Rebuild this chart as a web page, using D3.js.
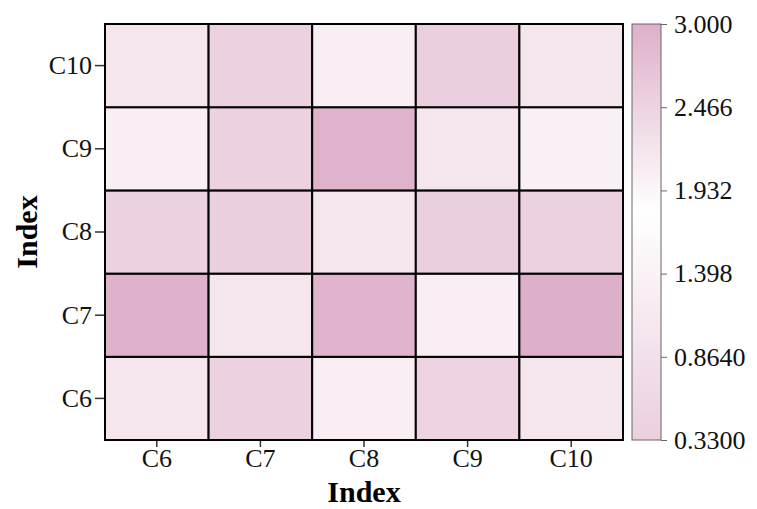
<!DOCTYPE html>
<html>
<head>
<meta charset="utf-8">
<script src="https://cdn.jsdelivr.net/npm/d3@7"></script>
<style>
  body { margin: 0; background: #fff; }
  text { font-family: "Liberation Serif", "Times New Roman", serif; }
</style>
</head>
<body>
<svg id="chart" width="757" height="509"></svg>
<script>
const xCats = ["C6", "C7", "C8", "C9", "C10"];
const yCats = ["C6", "C7", "C8", "C9", "C10"];
// rows follow yCats, columns follow xCats
const values = [
  [2.18, 2.48, 2.05, 0.45, 2.18],
  [2.95, 2.18, 2.93, 2.05, 3.00],
  [0.40, 2.52, 2.18, 2.52, 0.42],
  [2.05, 0.38, 2.94, 2.18, 2.03],
  [2.18, 2.48, 2.05, 0.33, 2.18]
];
const cbTicks = ["0.3300", "0.8640", "1.398", "1.932", "2.466", "3.000"];

const svg = d3.select("#chart"),
      margin = {top: 24, left: 105, right: 623, bottom: 440};

const x = d3.scaleBand().domain(xCats).range([margin.left, margin.right]);
const y = d3.scaleBand().domain(yCats).range([margin.bottom, margin.top]);

const color = d3.scaleLinear()
    .domain([0.33, 1.8, 3.0])
    .range(["#ebcfdf", "#ffffff", "#deafc9"]);

const cells = [];
values.forEach((row, i) => row.forEach((v, j) => cells.push({x: xCats[j], y: yCats[i], v: v})));

svg.append("g").selectAll("rect")
  .data(cells)
  .join("rect")
    .attr("x", d => x(d.x))
    .attr("y", d => y(d.y))
    .attr("width", x.bandwidth())
    .attr("height", y.bandwidth())
    .attr("fill", d => color(d.v))
    .attr("stroke", "#000")
    .attr("stroke-width", 2);

// axes
const xAxis = svg.append("g")
    .attr("transform", `translate(0,${margin.bottom + 1})`)
    .call(d3.axisBottom(x).tickSize(6).tickPadding(2));
const yAxis = svg.append("g")
    .attr("transform", `translate(${margin.left - 1},0)`)
    .call(d3.axisLeft(y).tickSize(9).tickPadding(3));
[xAxis, yAxis].forEach(g => {
  g.select(".domain").remove();
  g.selectAll(".tick line").attr("stroke", "#333").attr("stroke-width", 1.5);
  g.selectAll(".tick text").attr("font-size", 26).attr("fill", "#111")
    .style("font-family", "'Liberation Serif', serif");
});

svg.append("text")
    .attr("x", (margin.left + margin.right) / 2)
    .attr("y", 502)
    .attr("text-anchor", "middle")
    .attr("font-size", 30)
    .attr("font-weight", "bold")
    .text("Index");

svg.append("text")
    .attr("transform", `translate(37,${(margin.top + margin.bottom) / 2}) rotate(-90)`)
    .attr("text-anchor", "middle")
    .attr("font-size", 30)
    .attr("font-weight", "bold")
    .text("Index");

// colorbar
const cbX = 632, cbW = 29;
const cbScale = d3.scaleLinear().domain([0.33, 3.0]).range([margin.bottom, margin.top]);
const defs = svg.append("defs");
const grad = defs.append("linearGradient")
    .attr("id", "cbGrad")
    .attr("x1", 0).attr("y1", 1).attr("x2", 0).attr("y2", 0);
d3.range(0, 1.0001, 0.05).forEach(t => {
  const v = 0.33 + t * (3.0 - 0.33);
  grad.append("stop").attr("offset", t).attr("stop-color", color(v));
});
svg.append("rect")
    .attr("x", cbX)
    .attr("y", margin.top)
    .attr("width", cbW)
    .attr("height", margin.bottom - margin.top)
    .attr("fill", "url(#cbGrad)")
    .attr("stroke", "#666")
    .attr("stroke-width", 1);

const cbAxis = svg.append("g")
    .attr("transform", `translate(${cbX + cbW},0)`)
    .call(d3.axisRight(cbScale)
      .tickValues(cbTicks.map(Number))
      .tickFormat((d, i) => cbTicks[i])
      .tickSize(6).tickPadding(7));
cbAxis.select(".domain").remove();
cbAxis.selectAll(".tick line").attr("stroke", "#666");
cbAxis.selectAll(".tick text").attr("font-size", 26).attr("fill", "#111")
  .style("font-family", "'Liberation Serif', serif");
</script>
</body>
</html>
